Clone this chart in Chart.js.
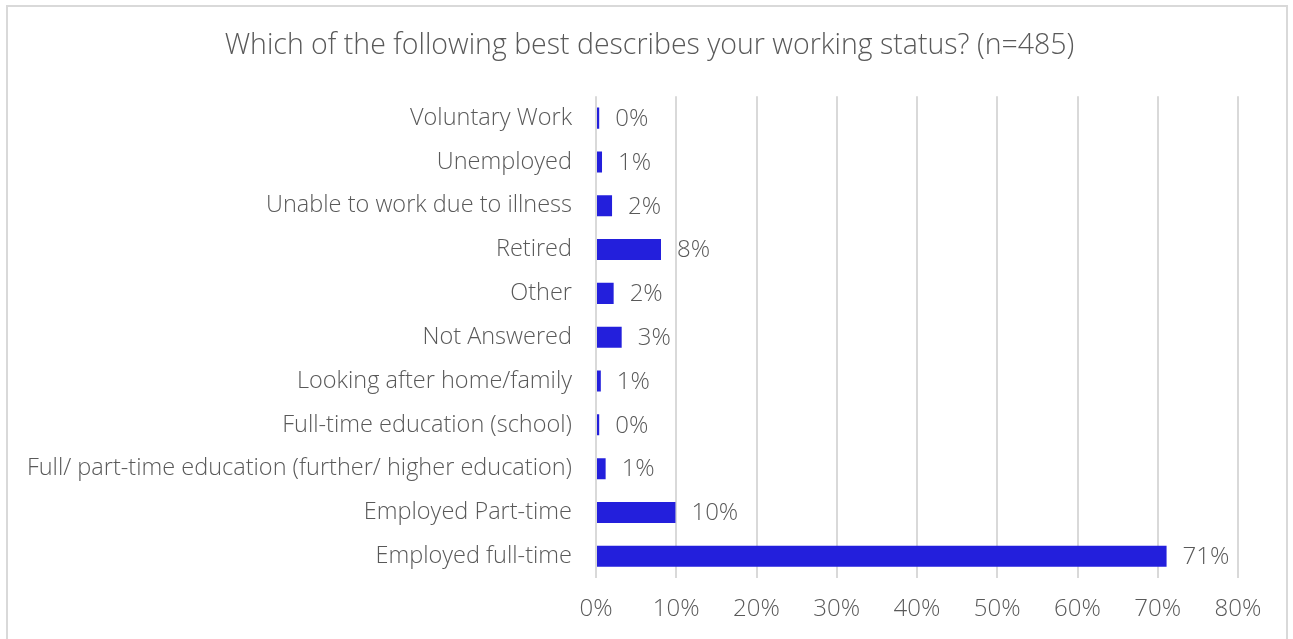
<!DOCTYPE html>
<html>
<head>
<meta charset="utf-8">
<script src="https://cdn.jsdelivr.net/npm/chart.js@4/dist/chart.umd.min.js"></script>
<style>
  html, body { margin: 0; padding: 0; background: #fff; overflow: hidden; }
  #frame { position: absolute; left: 6px; top: 5px; width: 1282px; height: 660px; border: 2px solid #d9d9d9; box-sizing: border-box; }
  #wrap { position: absolute; left: 0; top: 0; width: 1293px; height: 639px; }
</style>
</head>
<body>
<div id="frame"></div>
<div id="wrap"><canvas id="c" width="1293" height="639"></canvas></div>
<script>
const titleText = 'Which of the following best describes your working status? (n=485)';
const categories = [
  'Voluntary Work',
  'Unemployed',
  'Unable to work due to illness',
  'Retired',
  'Other',
  'Not Answered',
  'Looking after home/family',
  'Full-time education (school)',
  'Full/ part-time education (further/ higher education)',
  'Employed Part-time',
  'Employed full-time'
];
const percentValues = [0.4, 0.75, 2.0, 8.1, 2.2, 3.2, 0.6, 0.4, 1.2, 9.9, 71.1];
const xTickValues = [0, 10, 20, 30, 40, 50, 60, 70, 80];

const FONT = '"Open Sans", "Segoe UI", sans-serif';
const TEXT = '#595959';

const valueLabels = {
  id: 'valueLabels',
  afterDatasetsDraw(chart) {
    const ctx = chart.ctx;
    const meta = chart.getDatasetMeta(0);
    ctx.save();
    ctx.font = '300 24px ' + FONT;
    ctx.fillStyle = TEXT;
    ctx.textAlign = 'left';
    ctx.textBaseline = 'middle';
    meta.data.forEach((bar, i) => {
      ctx.fillText(Math.round(percentValues[i]) + '%', bar.x + 16, bar.y + 1);
    });
    ctx.restore();
  }
};

new Chart(document.getElementById('c'), {
  type: 'bar',
  data: {
    labels: categories,
    datasets: [{
      data: percentValues,
      backgroundColor: '#231fdc',
      borderWidth: 0,
      barPercentage: 0.48,
      categoryPercentage: 1
    }]
  },
  options: {
    indexAxis: 'y',
    responsive: false,
    animation: false,
    devicePixelRatio: 1,
    layout: { padding: { left: 6, right: 0, top: 0, bottom: -2 } },
    plugins: {
      legend: { display: false },
      tooltip: { enabled: false },
      title: {
        display: true,
        text: titleText,
        color: TEXT,
        font: { family: FONT, size: 28.5, weight: '300' },
        padding: { top: 29, bottom: 33 }
      }
    },
    scales: {
      x: {
        min: 0, max: 80,
        afterBuildTicks(scale) { scale.ticks = xTickValues.map(v => ({ value: v })); },
        grid: { color: '#d9d9d9', lineWidth: 2, drawTicks: false },
        border: { display: false },
        ticks: {
          color: TEXT,
          font: { family: FONT, size: 24, weight: '300' },
          padding: 17,
          callback: v => v + '%'
        }
      },
      y: {
        grid: { display: false, drawTicks: false },
        border: { display: false },
        afterFit(scale) { scale.width = 590; },
        ticks: {
          color: TEXT,
          font: { family: FONT, size: 23.5, weight: '300' },
          padding: 24,
          autoSkip: false
        }
      },
      yRight: {
        type: 'linear',
        position: 'right',
        display: true,
        grid: { display: false, drawTicks: false },
        border: { display: false },
        ticks: { display: false },
        afterFit(scale) { scale.width = 55; }
      }
    }
  },
  plugins: [valueLabels]
});
</script>
</body>
</html>
